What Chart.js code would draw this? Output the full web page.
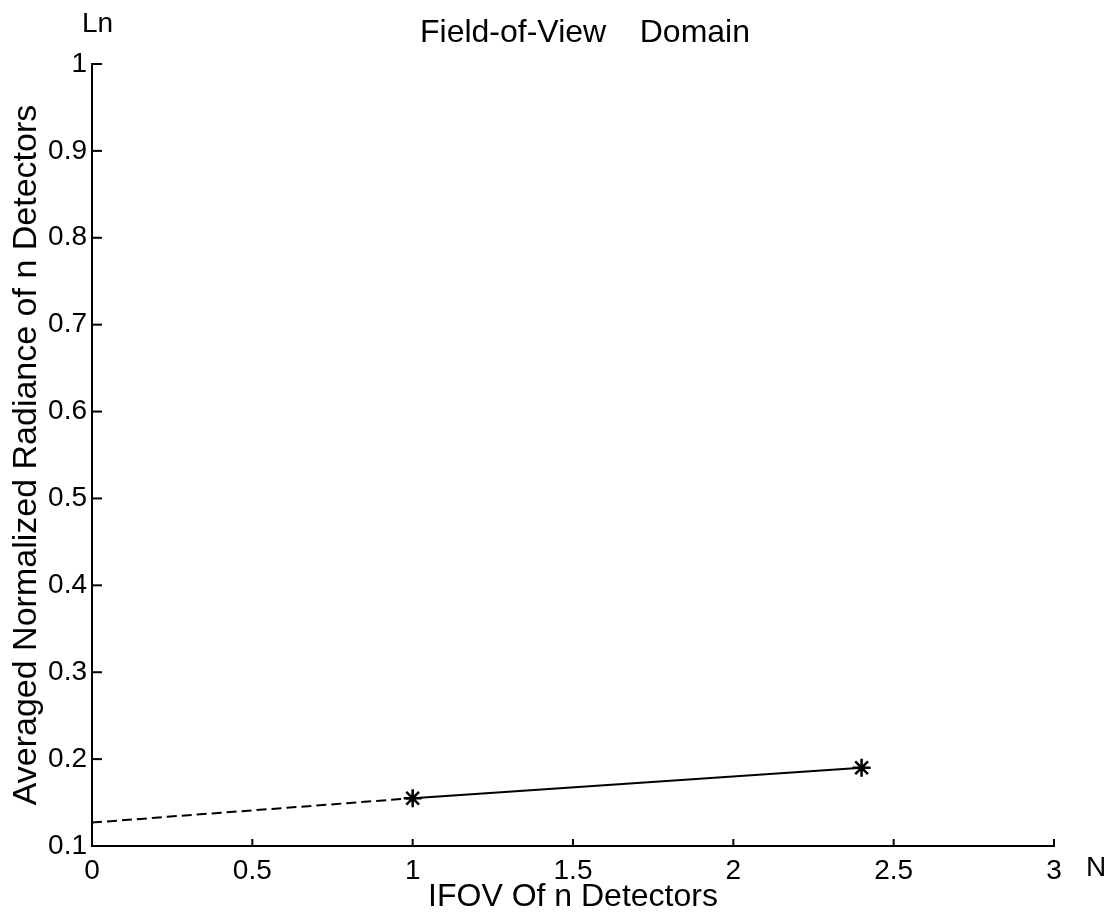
<!DOCTYPE html>
<html><head><meta charset="utf-8">
<script src="https://cdn.jsdelivr.net/npm/chart.js@4.4.1/dist/chart.umd.min.js"></script>
<style>html,body{margin:0;padding:0;background:#fff}canvas{display:block}</style>
</head><body>
<canvas id="c" width="1114" height="918"></canvas>
<script>
// ---- data ----
const xTickValues = [0, 0.5, 1, 1.5, 2, 2.5, 3];
const xTickLabels = ['0', '0.5', '1', '1.5', '2', '2.5', '3'];
const yTickValues = [0.1, 0.2, 0.3, 0.4, 0.5, 0.6, 0.7, 0.8, 0.9, 1];
const yTickLabels = ['0.1', '0.2', '0.3', '0.4', '0.5', '0.6', '0.7', '0.8', '0.9', '1'];
const extrapX = [0, 1];
const extrapY = [0.127, 0.155];
const measuredX = [1, 2.4];
const measuredY = [0.155, 0.19];
const titleParts = ['Field-of-View', 'Domain'];
const xTitle = 'IFOV Of n Detectors';
const yTitle = 'Averaged Normalized Radiance of n Detectors';

const FONT = '"Liberation Sans", Arial, Helvetica, sans-serif';
const toPts = (xs, ys) => xs.map((v, i) => ({x: v, y: ys[i]}));

const inwardTicks = {
  id: 'inwardTicks',
  afterDatasetsDraw(chart) {
    const {ctx, scales: {x, y}, chartArea: a} = chart;
    ctx.save();
    ctx.strokeStyle = '#000';
    ctx.lineWidth = 2;
    x.ticks.forEach((t, i) => {
      if (i === 0) return;
      const px = x.getPixelForTick(i);
      ctx.beginPath(); ctx.moveTo(px, a.bottom); ctx.lineTo(px, a.bottom - 7); ctx.stroke();
    });
    y.ticks.forEach((t, i) => {
      if (i === 0) return;
      const py = y.getPixelForTick(i);
      ctx.beginPath(); ctx.moveTo(a.left, py); ctx.lineTo(a.left + 10, py); ctx.stroke();
    });
    ctx.restore();
  }
};

const annotations = {
  id: 'annotations',
  afterDraw(chart) {
    const {ctx} = chart;
    ctx.save();
    ctx.fillStyle = '#000';
    ctx.font = '32px ' + FONT;
    ctx.textBaseline = 'middle';
    ctx.textAlign = 'left';
    ctx.fillText(titleParts[0], 420, 33);
    ctx.textAlign = 'right';
    ctx.fillText(titleParts[1], 750, 33);
    ctx.font = '28px ' + FONT;
    ctx.textAlign = 'left';
    ctx.fillText('Ln', 82, 24);
    ctx.fillText('N', 1086, 868);
    ctx.restore();
  }
};

new Chart(document.getElementById('c'), {
  type: 'scatter',
  data: {
    datasets: [
      {
        data: toPts(extrapX, extrapY),
        showLine: true,
        borderColor: '#000',
        borderWidth: 2,
        borderDash: [10, 5],
        pointRadius: 0,
        clip: false
      },
      {
        data: toPts(measuredX, measuredY),
        showLine: true,
        borderColor: '#000',
        borderWidth: 2,
        pointStyle: 'star',
        pointRadius: 9,
        pointBorderWidth: 2.5,
        pointBorderColor: '#000',
        pointBackgroundColor: '#000',
        clip: false
      }
    ]
  },
  options: {
    responsive: false,
    animation: false,
    devicePixelRatio: 1,
    layout: {padding: {left: 0, right: 60, top: 64, bottom: 0}},
    plugins: {legend: {display: false}, tooltip: {enabled: false}, title: {display: false}},
    scales: {
      x: {
        type: 'linear',
        min: 0, max: 3,
        afterBuildTicks: s => { s.ticks = xTickValues.map(v => ({value: v})); },
        afterFit: s => { s.height = 72; },
        grid: {display: false, drawTicks: false, drawOnChartArea: false},
        border: {display: true, color: '#000', width: 2},
        ticks: {
          color: '#000', font: {family: FONT, size: 28}, padding: 8,
          maxRotation: 0, autoSkip: false,
          callback: (v, i) => xTickLabels[i]
        },
        title: {display: true, text: xTitle, color: '#000', font: {family: FONT, size: 32}, padding: {top: 0, bottom: 2}}
      },
      y: {
        type: 'linear',
        min: 0.1, max: 1,
        afterBuildTicks: s => { s.ticks = yTickValues.map(v => ({value: v})); },
        afterFit: s => { s.width = 92; },
        grid: {display: false, drawTicks: false, drawOnChartArea: false},
        border: {display: true, color: '#000', width: 2},
        ticks: {
          color: '#000', font: {family: FONT, size: 28}, padding: 5,
          autoSkip: false,
          callback: (v, i) => yTickLabels[i]
        },
        title: {display: true, text: yTitle, color: '#000', font: {family: FONT, size: 34}, padding: {top: 6, bottom: 0}}
      }
    }
  },
  plugins: [inwardTicks, annotations]
});
</script>
</body></html>
